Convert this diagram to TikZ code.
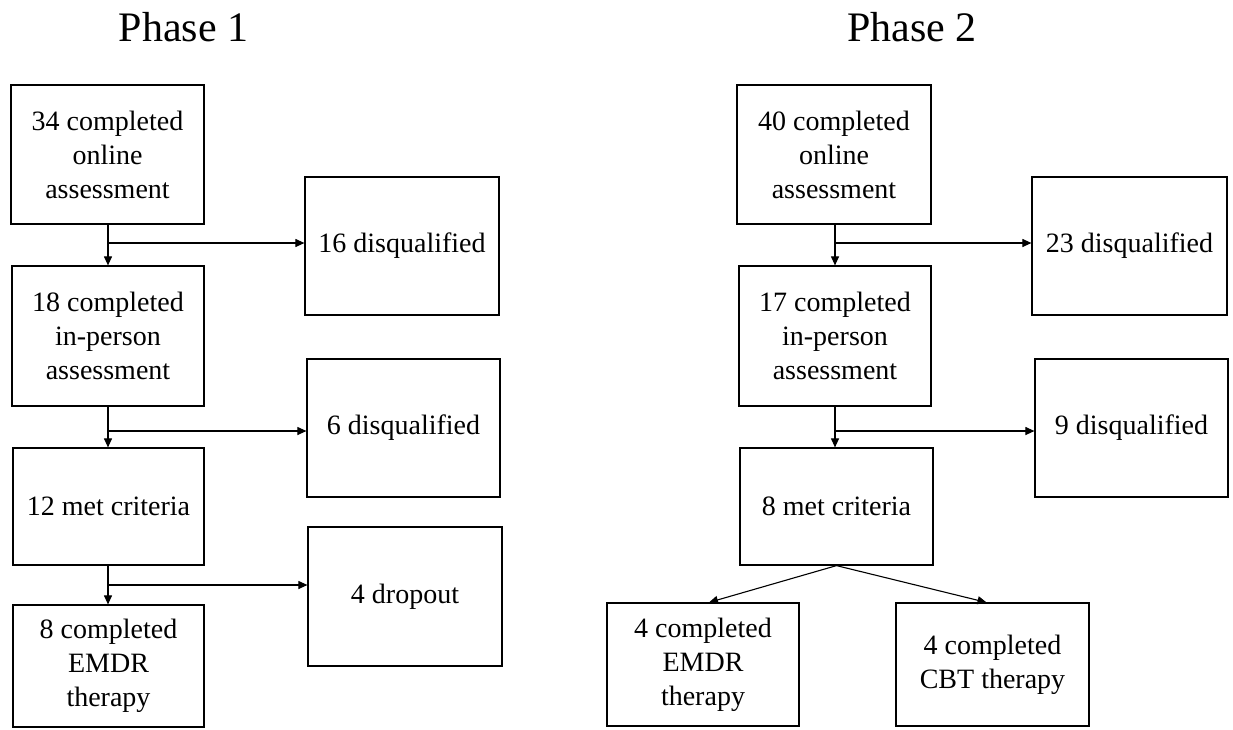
\documentclass[tikz,border=0pt]{standalone}
\usepackage{fontspec}
\setmainfont{Liberation Serif}
\usetikzlibrary{arrows.meta}
\begin{document}
\begin{tikzpicture}[x=1pt,y=-1pt,
  box/.style={draw, line width=1.2pt, align=center, inner sep=2pt,
    font=\fontsize{28}{34}\selectfont},
  arr/.style={line width=1.1pt, -{Triangle[length=9pt,width=8pt]}},
  title/.style={font=\fontsize{42}{48}\selectfont}]
\useasboundingbox (0,0) rectangle (1233,729);

% titles
\node[title] (t1) at (183.5,27) {Phase 1};
\node[title] (t2) at (912,27) {Phase 2};

% Phase 1 column
\node[box, minimum width=193pt, minimum height=139pt] (a1) at (107.5,154.5) {34 completed\\online\\assessment};
\node[box, minimum width=192pt, minimum height=140pt] (a2) at (108,336) {18 completed\\in-person\\assessment};
\node[box, minimum width=191pt, minimum height=117pt] (a3) at (108.5,506.5) {12 met criteria};
\node[box, minimum width=191pt, minimum height=122pt] (a4) at (108.5,666) {8 completed\\EMDR\\therapy};
\node[box, minimum width=194pt, minimum height=138pt] (d1) at (402,246) {16 disqualified};
\node[box, minimum width=193pt, minimum height=138pt] (d2) at (403.5,428) {6 disqualified};
\node[box, minimum width=194pt, minimum height=139pt] (d3) at (405,596.5) {4 dropout};

% Phase 2 column
\node[box, minimum width=194pt, minimum height=139pt] (b1) at (834,154.5) {40 completed\\online\\assessment};
\node[box, minimum width=192pt, minimum height=140pt] (b2) at (835,336) {17 completed\\in-person\\assessment};
\node[box, minimum width=193pt, minimum height=117pt] (b3) at (836.5,506.5) {8 met criteria};
\node[box, minimum width=195pt, minimum height=138pt] (e1) at (1129.5,246) {23 disqualified};
\node[box, minimum width=193pt, minimum height=138pt] (e2) at (1131.5,428) {9 disqualified};
\node[box, minimum width=192pt, minimum height=123pt] (c1) at (703,664.5) {4 completed\\EMDR\\therapy};
\node[box, minimum width=193pt, minimum height=123pt] (c2) at (992.5,664.5) {4 completed\\CBT therapy};

% branch points
\coordinate (j1) at (108,243);
\coordinate (j2) at (108,431);
\coordinate (j3) at (108,585);
\coordinate (k1) at (835,243);
\coordinate (k2) at (835,431);

% Phase 1 connectors
\draw[arr] (a1.south -| j1) -- (a2.north -| j1);
\draw[arr] (j1) -- (j1 -| d1.west);
\draw[arr] (a2.south -| j2) -- (a3.north -| j2);
\draw[arr] (j2) -- (j2 -| d2.west);
\draw[arr] (a3.south -| j3) -- (a4.north -| j3);
\draw[arr] (j3) -- (j3 -| d3.west);

% Phase 2 connectors
\draw[arr] (b1.south -| k1) -- (b2.north -| k1);
\draw[arr] (k1) -- (k1 -| e1.west);
\draw[arr] (b2.south -| k2) -- (b3.north -| k2);
\draw[arr] (k2) -- (k2 -| e2.west);
\draw[arr] (b3.south) -- ([xshift=6pt]c1.north);
\draw[arr] (b3.south) -- ([xshift=-6pt]c2.north);
\end{tikzpicture}
\end{document}
